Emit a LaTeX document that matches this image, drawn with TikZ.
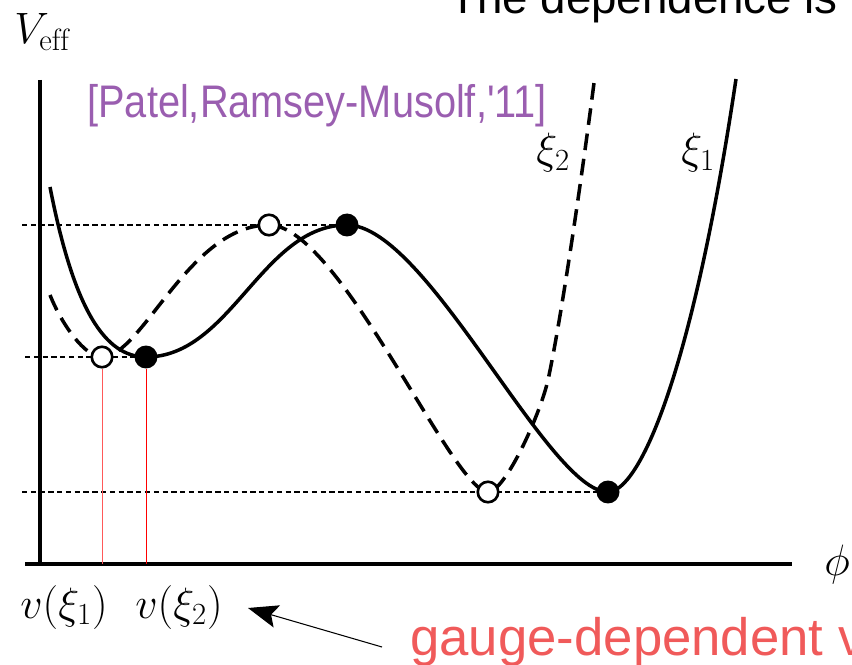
\RequirePackage{fix-cm}
\documentclass[tikz,border=0pt]{standalone}
\usepackage{fontspec}
\usepackage{amsmath}
\usepackage{xcolor}
\usepackage{tikz}
\usetikzlibrary{arrows.meta,positioning}

\newfontfamily\labelsans{Liberation Sans}
\newfontfamily\citesans[FakeStretch=0.87]{Liberation Sans}
\definecolor{citepurple}{RGB}{154,94,176}
\definecolor{gaugered}{RGB}{240,90,90}

\tikzset{
  axisline/.style={line width=2pt},
  curveone/.style={line width=2pt},
  curvetwo/.style={line width=2pt, dash pattern=on 9.5pt off 5pt},
  guide/.style={line width=1.3pt, dash pattern=on 3pt off 2pt},
  vevline/.style={line width=0.5pt},
  opendot/.style={circle, draw, fill=white, line width=1.5pt, inner sep=0pt, minimum size=0.41cm},
  fulldot/.style={circle, fill=black, inner sep=0pt, minimum size=0.46cm},
  mathlbl/.style={inner sep=0pt, anchor=base west, font=\fontsize{25}{30}\selectfont}
}

\begin{document}
\begin{tikzpicture}[x=0.02cm, y=-0.02cm]
  \useasboundingbox (0,0) rectangle (852,665);

  % Axes
  \coordinate (ytop) at (40,80);
  \coordinate (xl) at (25,564);
  \coordinate (xr) at (792,564);
  \draw[axisline] (ytop) -- (ytop |- xl);
  \draw[axisline] (xl) -- (xr);
  \node[mathlbl] (veff) at (14,44) {$V_{\mathrm{eff}}$};
  \node[mathlbl] (phi) at (824,575) {$\phi$};

  % Extrema
  \coordinate (s1min) at (146,357);
  \coordinate (s1max) at (347,225);
  \coordinate (s1low) at (608,492);
  \coordinate (d2min) at (102,357);
  \coordinate (d2max) at (269,225);
  \coordinate (d2low) at (488,492);

  % Guide lines
  \coordinate (gtop) at (22,225);
  \coordinate (gmid) at (25,357);
  \coordinate (glow) at (22,492);
  \draw[guide] (gtop) -- (s1max);
  \draw[guide] (gmid) -- (s1min);
  \draw[guide] (glow) -- (s1low);

  % Gauge xi_1 (solid)
  \draw[curveone] (50,187) .. controls (74,310) and (105,357) .. (s1min)
    .. controls (231,357) and (262,225) .. (s1max)
    .. controls (427,225) and (548,492) .. (s1low)
    .. controls (638,492) and (691,381) .. (736,79);

  % Gauge xi_2 (dashed)
  \draw[curvetwo] (50,295) .. controls (62,325) and (85,357) .. (d2min)
    .. controls (142,357) and (189,225) .. (d2max)
    .. controls (339,225) and (453,492) .. (d2low)
    .. controls (505,492) and (540,415) .. (548,380)
    .. controls (561,320) and (581,183) .. (594,83);

  % Dots
  \node[opendot] (o1) at (d2min) {};
  \node[opendot] (o2) at (d2max) {};
  \node[opendot] (o3) at (d2low) {};
  \node[fulldot] (f1) at (s1min) {};
  \node[fulldot] (f2) at (s1max) {};
  \node[fulldot] (f3) at (s1low) {};

  % vev lines
  \draw[vevline, red!65] (o1.south) -- (o1.south |- xl);
  \draw[vevline, red] (f1.south) -- (f1.south |- xl);

  % Labels
  \node[mathlbl] (xi2) at (536,164) {$\xi_2$};
  \node[mathlbl] (xi1) at (681,164) {$\xi_1$};
  \node[mathlbl] (v1) at (20,618) {$v(\xi_1)$};
  \node[mathlbl] (v2) at (135,618) {$v(\xi_2)$};
  \node[inner sep=0pt, anchor=base west, text=citepurple,
        font=\citesans\fontsize{26}{30}\selectfont] (cite) at (87,118) {[Patel,Ramsey-Musolf,'11]};
  \node[inner sep=0pt, anchor=base west,
        font=\labelsans\fontsize{26}{30}\selectfont] (title) at (449,14) {The dependence is};
  \node[inner sep=0pt, anchor=base west, text=gaugered,
        font=\labelsans\fontsize{30}{34}\selectfont] (gauge) at (410,655) {gauge-dependent v};

  % Arrow
  \coordinate (arrtail) at (382,647);
  \coordinate (arrtip) at (248,608);
  \draw[line width=0.6pt, -{Stealth[length=6mm, width=4.6mm, inset=1.2mm]}] (arrtail) -- (arrtip);
\end{tikzpicture}
\end{document}
